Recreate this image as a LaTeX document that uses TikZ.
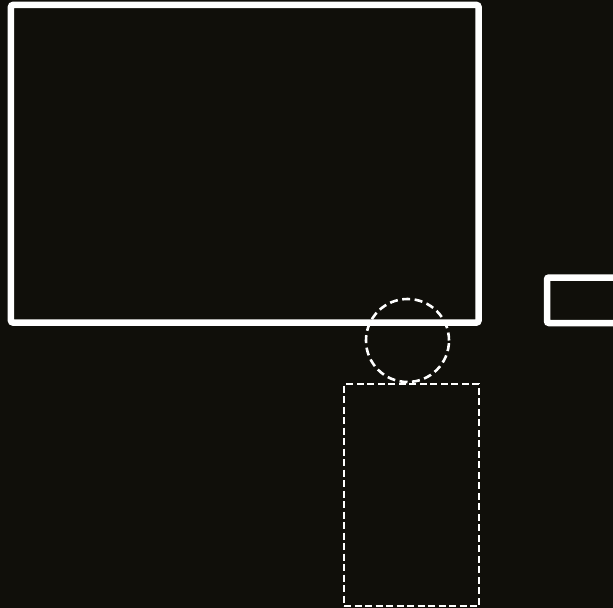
\documentclass[tikz,border=0pt]{standalone}
\usepackage{tikz}
\usetikzlibrary{positioning}

\definecolor{bgdark}{HTML}{100F0A}

\begin{document}
\begin{tikzpicture}[
  x=1bp,y=-1bp,
  every node/.style={inner sep=0pt,outer sep=0pt},
  panel/.style={rectangle,draw=white,line width=6.5bp,rounded corners=2bp},
  outline/.style={draw=white,line width=2.8bp,dash pattern=on 7bp off 3.5bp},
  shadow/.style={circle,draw=white,line width=2.6bp,dash pattern=on 8bp off 4.5bp}
]
\path[use as bounding box,fill=bgdark] (0,0) rectangle (613,608);
\clip (0,0) rectangle (613,608);
\node[panel,minimum width=467.5bp,minimum height=317.5bp] (screen) at (244.75,163.75) {};
\node[panel,minimum width=153bp,minimum height=45.5bp] (side) at (623.5,300.25) {};
\node[rectangle,outline,minimum width=135bp,minimum height=222bp] (stand) at (411.5,495) {};
\node[shadow,minimum size=83bp] (knob) at (407.5,340.5) {};
\end{tikzpicture}
\end{document}
